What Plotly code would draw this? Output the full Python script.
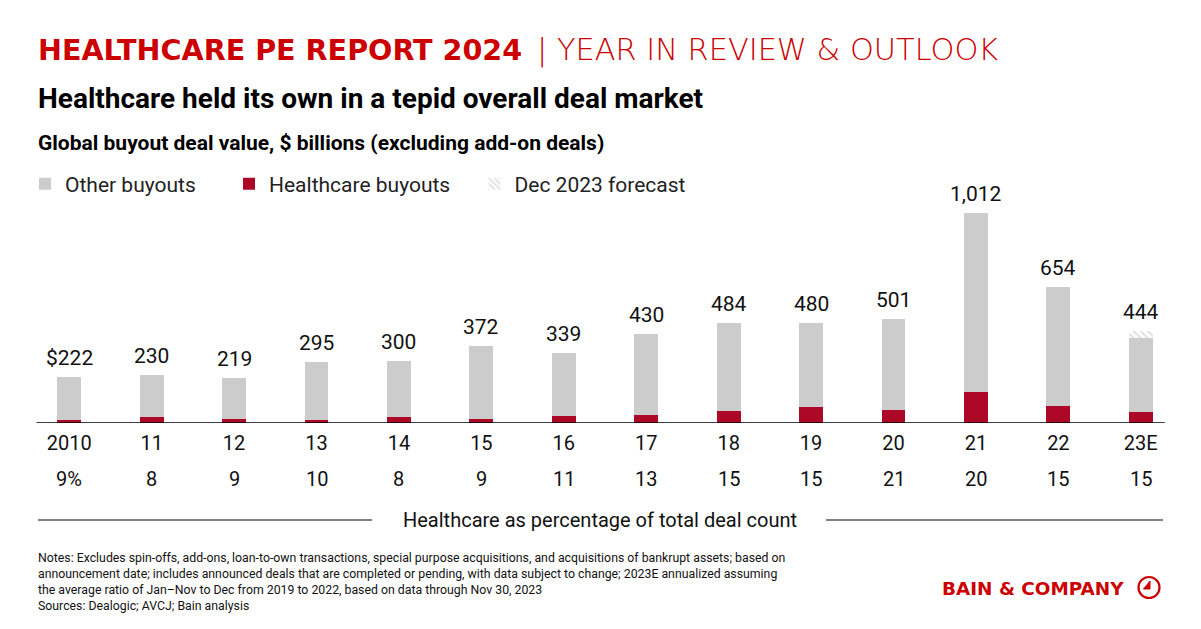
import plotly.graph_objects as go

# ---- data ----
years = ["2010", "11", "12", "13", "14", "15", "16", "17", "18", "19", "20", "21", "22", "23E"]
totals = [222, 230, 219, 295, 300, 372, 339, 430, 484, 480, 501, 1012, 654, 444]
healthcare = [13, 27, 18, 14, 27, 21, 34, 40, 59, 77, 63, 149, 83, 51]
forecast = [0, 0, 0, 0, 0, 0, 0, 0, 0, 0, 0, 0, 0, 35]
total_labels = ["$222", "230", "219", "295", "300", "372", "339", "430", "484", "480", "501", "1,012", "654", "444"]
hc_pct = ["9%", "8", "9", "10", "8", "9", "11", "13", "15", "15", "21", "20", "15", "15"]
other = [t - h - f for t, h, f in zip(totals, healthcare, forecast)]
xpos = list(range(len(years)))

W, H = 1201, 629
OFF = 8  # page offset of the figure inside the browser window
L, R, T, B = 20, 27, 172, 214
PW, PH = W - L - R, H - T - B
BASE = H - B
YMAX = PH / 0.2075


def sx(x):
    """screen x pixel -> paper x"""
    return (x - OFF - L) / PW


def sy(y):
    """screen y pixel -> paper y"""
    return (BASE - (y - OFF)) / PH


RED = "#cc0000"
GRAY = "#cccccc"
HC = "#ad0828"
FONT = "Roboto"

fig = go.Figure()
fig.add_trace(go.Bar(x=xpos, y=healthcare, name="Healthcare buyouts", legend="legend2",
                     marker=dict(color=HC, line=dict(width=0))))
fig.add_trace(go.Bar(x=xpos, y=other, name="Other buyouts", legend="legend",
                     marker=dict(color=GRAY, line=dict(width=0))))
fig.add_trace(go.Bar(x=xpos, y=forecast, name="Dec 2023 forecast", legend="legend3",
                     marker=dict(color="white", line=dict(width=0),
                                 pattern=dict(shape="\\", fgcolor="#bdbdbd", bgcolor="white",
                                              size=5, solidity=0.4))))

ann = []
# value labels above bars
for xi, t, lab in zip(xpos, totals, total_labels):
    ann.append(dict(x=xi, y=t, xref="x", yref="y", text=lab, showarrow=False,
                    yanchor="bottom", yshift=5, font=dict(family=FONT, size=21, color="#111111")))
# percentage row
for xi, p in zip(xpos, hc_pct):
    ann.append(dict(x=xi, y=sy(479), xref="x", yref="paper", text=p, showarrow=False,
                    yanchor="middle", font=dict(family=FONT, size=20, color="#111111")))

# header texts
ann.append(dict(x=sx(36), y=sy(50), xref="paper", yref="paper", xanchor="left", yanchor="middle",
                text="<b>HEALTHCARE PE REPORT 2024</b>", showarrow=False,
                font=dict(family="DejaVu Sans", size=28.6, color=RED)))
ann.append(dict(x=sx(535), y=sy(50), xref="paper", yref="paper", xanchor="left", yanchor="middle",
                text="| YEAR IN REVIEW &amp; OUTLOOK", showarrow=False,
                font=dict(family="DejaVu Sans", size=30.4, color=RED, weight=300)))
ann.append(dict(x=sx(36), y=sy(98), xref="paper", yref="paper", xanchor="left", yanchor="middle",
                text="<b>Healthcare held its own in a tepid overall deal market</b>", showarrow=False,
                font=dict(family=FONT, size=28, color="#000000")))
ann.append(dict(x=sx(36), y=sy(143), xref="paper", yref="paper", xanchor="left", yanchor="middle",
                text="<b>Global buyout deal value, $ billions (excluding add-on deals)</b>", showarrow=False,
                font=dict(family=FONT, size=21, color="#000000")))
# bottom caption
ann.append(dict(x=sx(600), y=sy(520), xref="paper", yref="paper", xanchor="center", yanchor="middle",
                text="Healthcare as percentage of total deal count", showarrow=False,
                font=dict(family=FONT, size=20, color="#111111")))
notes = ("Notes: Excludes spin-offs, add-ons, loan-to-own transactions, special purpose acquisitions, and acquisitions of bankrupt assets; based on<br>"
         "announcement date; includes announced deals that are completed or pending, with data subject to change; 2023E annualized assuming<br>"
         "the average ratio of Jan\u2013Nov to Dec from 2019 to 2022, based on data through Nov 30, 2023<br>"
         "Sources: Dealogic; AVCJ; Bain analysis")
ann.append(dict(x=sx(36), y=sy(549), xref="paper", yref="paper", xanchor="left", yanchor="top",
                text=notes, showarrow=False, align="left",
                font=dict(family=FONT, size=12.3, color="#111111")))
ann.append(dict(x=sx(1126), y=sy(588), xref="paper", yref="paper", xanchor="right", yanchor="middle",
                text="<b>BAIN &amp; COMPANY</b>", showarrow=False,
                font=dict(family="DejaVu Sans", size=18.4, color=RED)))

shapes = [
    # axis baseline
    dict(type="line", xref="x", yref="y", x0=-0.397, x1=13.29, y0=0, y1=0,
         line=dict(color="#000000", width=1.5)),
    # caption rules
    dict(type="line", xref="paper", yref="paper", x0=sx(38), x1=sx(372), y0=sy(520), y1=sy(520),
         line=dict(color="#808080", width=2)),
    dict(type="line", xref="paper", yref="paper", x0=sx(826), x1=sx(1163), y0=sy(520), y1=sy(520),
         line=dict(color="#808080", width=2)),
    # logo circle
    dict(type="circle", xref="paper", yref="paper", x0=sx(1138.5), x1=sx(1159.5), y0=sy(577), y1=sy(598),
         line=dict(color=RED, width=2.2)),
    dict(type="path", xref="paper", yref="paper",
         path=f"M {sx(1150)} {sy(581)} L {sx(1150)} {sy(589)} L {sx(1143.5)} {sy(589)} Z",
         fillcolor=RED, line=dict(color=RED, width=1)),
]

leg_common = dict(orientation="h", yanchor="middle", y=sy(184), xanchor="left",
                  font=dict(family=FONT, size=21, color="#222222"),
                  bgcolor="rgba(0,0,0,0)", itemwidth=30)

fig.update_layout(
    width=W, height=H,
    margin=dict(l=L, r=R, t=T, b=B),
    paper_bgcolor="white", plot_bgcolor="white",
    barmode="stack", bargap=0.709,
    font=dict(family=FONT, size=18, color="#111111"),
    showlegend=True,
    legend=dict(x=sx(25), **leg_common),
    legend2=dict(x=sx(229), **leg_common),
    legend3=dict(x=sx(474.5), **leg_common),
    xaxis=dict(range=[-0.5, 13.5], tickmode="array", tickvals=xpos, ticktext=years,
               showgrid=False, zeroline=False, showline=False,
               tickfont=dict(family=FONT, size=20, color="#111111"), ticks="",
               ticklabelstandoff=6),
    yaxis=dict(range=[0, YMAX], visible=False),
    annotations=ann, shapes=shapes,
)

fig.write_html("out.html")
